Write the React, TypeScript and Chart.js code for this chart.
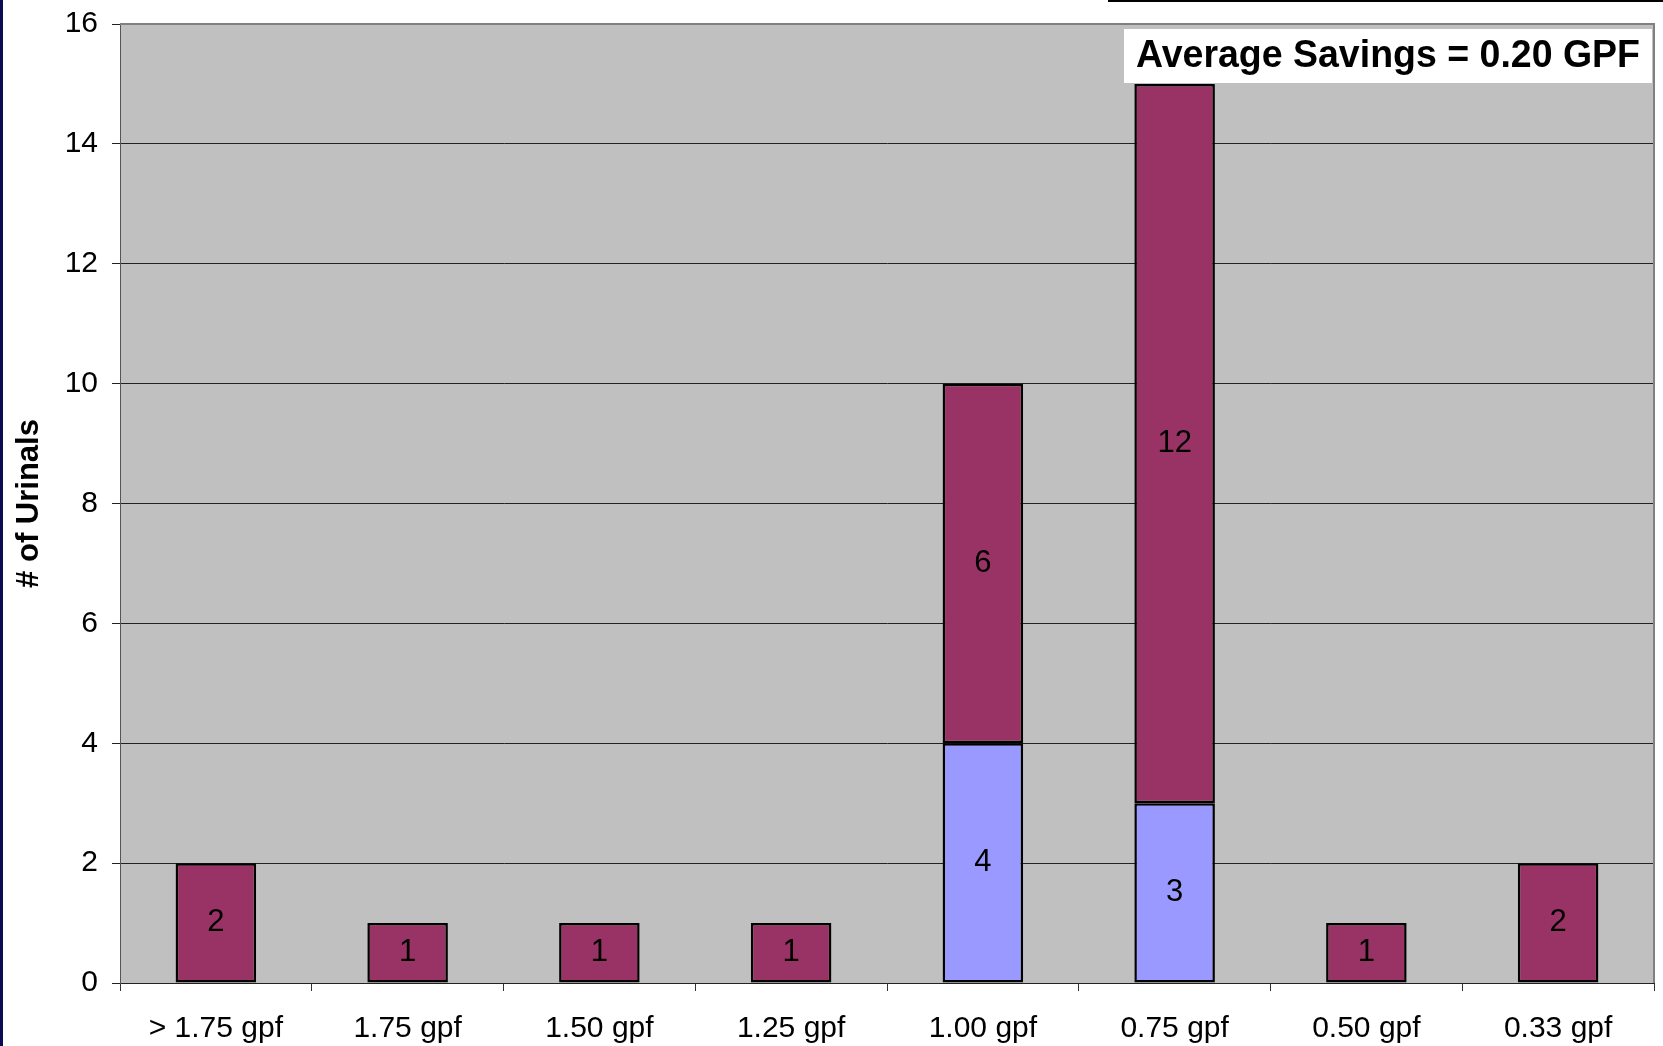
import { useEffect, useRef } from "react";
import { Chart, registerables } from "chart.js";

Chart.register(...registerables);

// Urinal counts per flush rating, split into two stacked groups
const categories = [
  "> 1.75 gpf",
  "1.75 gpf",
  "1.50 gpf",
  "1.25 gpf",
  "1.00 gpf",
  "0.75 gpf",
  "0.50 gpf",
  "0.33 gpf",
];
const lowerCounts: (number | null)[] = [null, null, null, null, 4, 3, null, null];
const upperCounts: (number | null)[] = [2, 1, 1, 1, 6, 12, 1, 2];
const yMin = 0;
const yMax = 16;
const yStep = 2;
const yAxisTitle = "# of Urinals";
const savingsNote = "Average Savings = 0.20 GPF";

const FONT = "'Liberation Sans', Arial, Helvetica, sans-serif";

const plotBackground = {
  id: "plotBackground",
  beforeDraw(chart: any) {
    const { ctx, chartArea: a } = chart;
    ctx.save();
    ctx.fillStyle = "#C0C0C0";
    ctx.fillRect(a.left, a.top, a.right - a.left, a.bottom - a.top);
    ctx.restore();
  },
  beforeDatasetsDraw(chart: any) {
    const { ctx, chartArea: a } = chart;
    ctx.save();
    ctx.strokeStyle = "#808080";
    ctx.lineWidth = 2;
    ctx.beginPath();
    ctx.moveTo(a.left, a.top);
    ctx.lineTo(a.right, a.top);
    ctx.lineTo(a.right, a.bottom);
    ctx.stroke();
    ctx.restore();
  },
};

const valueLabels = {
  id: "valueLabels",
  afterDatasetsDraw(chart: any) {
    const { ctx } = chart;
    ctx.save();
    ctx.font = `31px ${FONT}`;
    ctx.fillStyle = "#000";
    ctx.textAlign = "center";
    ctx.textBaseline = "middle";
    chart.data.datasets.forEach((ds: any, di: number) => {
      const meta = chart.getDatasetMeta(di);
      meta.data.forEach((el: any, i: number) => {
        const v = ds.data[i];
        if (v === null || v === undefined) return;
        const { x, y, base } = el.getProps(["x", "y", "base"], true);
        ctx.fillText(String(v), x, (y + base) / 2);
      });
    });
    ctx.restore();
  },
};

const noteBox = {
  id: "noteBox",
  afterDatasetsDraw(chart: any) {
    const { ctx } = chart;
    const bx = 1124;
    const by = 29;
    const bw = 528;
    const bh = 54;
    ctx.save();
    ctx.fillStyle = "#FFFFFF";
    ctx.fillRect(bx, by, bw, bh);
    ctx.font = `bold 38px ${FONT}`;
    ctx.fillStyle = "#000";
    ctx.textBaseline = "middle";
    ctx.textAlign = "center";
    const target = 504;
    const w = ctx.measureText(savingsNote).width;
    const sx = target / w;
    ctx.translate(bx + bw / 2, by + bh / 2 + 1);
    ctx.scale(sx, 1);
    ctx.fillText(savingsNote, 0, 0);
    ctx.restore();
  },
};

export default function App() {
  const ref = useRef<HTMLCanvasElement | null>(null);

  useEffect(() => {
    document.body.style.margin = "0";
    const canvas = ref.current;
    if (!canvas) return;
    const chart = new Chart(canvas, {
      type: "bar",
      data: {
        labels: categories,
        datasets: [
          {
            label: "lower",
            data: lowerCounts,
            backgroundColor: "#9999FF",
            borderColor: "#000000",
            borderWidth: 2.5,
            borderSkipped: false,
          },
          {
            label: "upper",
            data: upperCounts,
            backgroundColor: "#993366",
            borderColor: "#000000",
            borderWidth: 2.5,
            borderSkipped: false,
          },
        ],
      },
      options: {
        responsive: false,
        animation: false,
        devicePixelRatio: 1,
        layout: { padding: { left: 0, right: 9, top: 24, bottom: 0 } },
        datasets: {
          bar: { categoryPercentage: 1, barPercentage: 0.42 },
        },
        plugins: {
          legend: { display: false },
          tooltip: { enabled: false },
          title: { display: false },
        },
        scales: {
          x: {
            stacked: true,
            grid: {
              offset: true,
              drawOnChartArea: false,
              drawTicks: true,
              tickLength: 8,
              color: "#333",
              lineWidth: 1,
            },
            border: { display: true, color: "#222", width: 1 },
            ticks: {
              color: "#000",
              font: { family: FONT, size: 30 },
              padding: 20,
              maxRotation: 0,
              autoSkip: false,
            },
            afterFit(scale: any) {
              scale.height = 63;
              scale.paddingLeft = 0;
              scale.paddingRight = 0;
            },
          },
          y: {
            stacked: true,
            min: yMin,
            max: yMax,
            grid: {
              color: "#222",
              lineWidth: 1,
              drawTicks: true,
              tickLength: 8,
            },
            border: { display: true, color: "#555", width: 1 },
            ticks: {
              stepSize: yStep,
              color: "#000",
              font: { family: FONT, size: 30 },
              padding: 14,
            },
            title: {
              display: true,
              text: yAxisTitle,
              color: "#000",
              font: { family: FONT, size: 31, weight: "bold" },
              padding: { top: 11, bottom: 0 },
            },
            afterFit(scale: any) {
              scale.width = 120;
              scale.paddingTop = 0;
              scale.paddingBottom = 0;
            },
          },
        },
      },
      plugins: [plotBackground, valueLabels, noteBox],
    });
    return () => chart.destroy();
  }, []);

  return (
    <div
      style={{
        position: "absolute",
        left: 0,
        top: 0,
        width: 1663,
        height: 1046,
        background: "#fff",
        overflow: "hidden",
      }}
    >
      <canvas ref={ref} width={1663} height={1046} style={{ display: "block" }} />
      <div
        style={{
          position: "absolute",
          left: 0,
          top: 0,
          width: 3,
          height: 1046,
          background: "#0A0A55",
        }}
      />
      <div
        style={{
          position: "absolute",
          left: 1108,
          top: 0,
          width: 555,
          height: 2,
          background: "#000",
        }}
      />
    </div>
  );
}
